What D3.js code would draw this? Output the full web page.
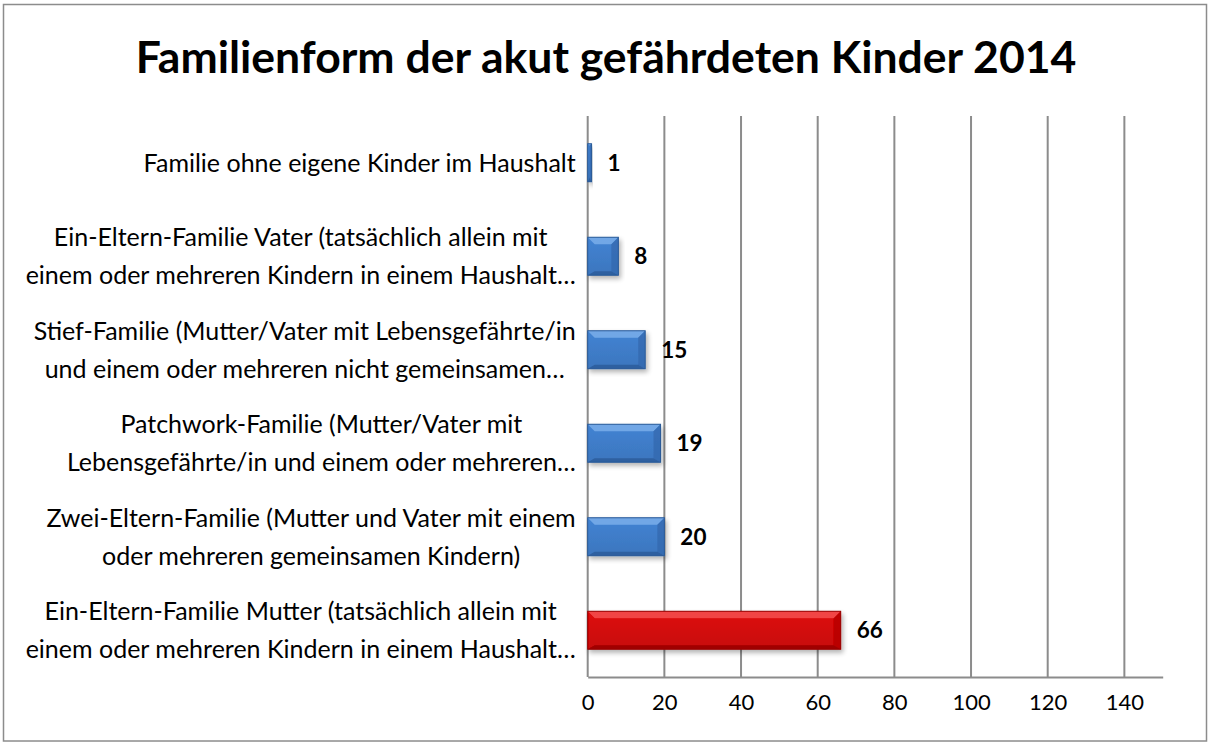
<!DOCTYPE html>
<html lang="de">
<head>
  <meta charset="UTF-8">
  <title>Familienform der akut gefährdeten Kinder 2014</title>
  <style>
    body {
      margin: 0;
      padding: 0;
      background: #fff;
    }
    svg text {
      font-family: 'Lato', 'Open Sans', sans-serif;
    }
  </style>
</head>
<body>

<script src="https://d3js.org/d3.v7.min.js"></script>

<script>
  // Categories, top to bottom, each split into the lines shown
  const categories = [
    ['Familie ohne eigene Kinder im Haushalt'],
    ['Ein-Eltern-Familie Vater (tatsächlich allein mit', 'einem oder mehreren Kindern in einem Haushalt…'],
    ['Stief-Familie (Mutter/Vater mit Lebensgefährte/in', 'und einem oder mehreren nicht gemeinsamen…'],
    ['Patchwork-Familie (Mutter/Vater mit', 'Lebensgefährte/in und einem oder mehreren…'],
    ['Zwei-Eltern-Familie (Mutter und Vater mit einem', 'oder mehreren gemeinsamen Kindern)'],
    ['Ein-Eltern-Familie Mutter (tatsächlich allein mit', 'einem oder mehreren Kindern in einem Haushalt…']
  ];
  const values = [1, 8, 15, 19, 20, 66];
  const highlighted = [false, false, false, false, false, true];
  const xTicks = [0, 20, 40, 60, 80, 100, 120, 140];
  const xMax = 150;

  const width = 1210, height = 745;
  const plot = { left: 587.7, right: 1162.7, top: 116, bottom: 677 };

  const svg = d3.select('body').append('svg')
    .attr('width', width)
    .attr('height', height);

  // outer frame
  svg.append('rect')
    .attr('x', 3.5).attr('y', 4.5)
    .attr('width', 1203).attr('height', 736.5)
    .attr('fill', '#fff')
    .attr('stroke', '#8c8c8c')
    .attr('stroke-width', 1.5);

  // title
  svg.append('text')
    .attr('x', 606).attr('y', 73)
    .attr('text-anchor', 'middle')
    .style('font-size', '44.5px')
    .style('font-weight', 'bold')
    .text('Familienform der akut gefährdeten Kinder 2014');

  const x = d3.scaleLinear().domain([0, xMax]).range([plot.left, plot.right]);
  const y = d3.scaleBand()
    .domain(d3.range(categories.length))
    .range([plot.top, plot.bottom])
    .paddingInner(0.594)
    .paddingOuter(0.297);

  // gridlines
  svg.append('g')
    .selectAll('line')
    .data(xTicks.filter(d => d > 0))
    .join('line')
    .attr('x1', d => x(d)).attr('x2', d => x(d))
    .attr('y1', plot.top).attr('y2', plot.bottom)
    .attr('stroke', '#8c8c8c')
    .attr('stroke-width', 2);

  // x axis (no tick marks, labels only)
  const xAxis = svg.append('g')
    .attr('transform', `translate(0,${plot.bottom})`)
    .call(d3.axisBottom(x).tickValues(xTicks).tickSize(0).tickPadding(17));
  xAxis.select('.domain').attr('stroke', '#8c8c8c').attr('stroke-width', 2);
  xAxis.selectAll('text')
    .style('font-size', '22px')
    .style('font-family', "'Lato', sans-serif")
    .attr('fill', '#000');

  // vertical category axis line
  svg.append('line')
    .attr('x1', x(0)).attr('x2', x(0))
    .attr('y1', plot.top).attr('y2', plot.bottom)
    .attr('stroke', '#8c8c8c')
    .attr('stroke-width', 2);

  // gradients and shadow
  const defs = svg.append('defs');
  const palettes = {
    blue: { light: '#7aaeea', main: '#3f7cc8', dark: '#2a5a98', side: '#3468ad' },
    red: { light: '#f45050', main: '#d20808', dark: '#960000', side: '#b40000' }
  };
  Object.entries(palettes).forEach(([k, p]) => {
    const g = defs.append('linearGradient')
      .attr('id', 'grad-' + k)
      .attr('x1', 0).attr('y1', 0).attr('x2', 0).attr('y2', 1);
    g.append('stop').attr('offset', '0%').attr('stop-color', d3.color(p.main).brighter(0.15));
    g.append('stop').attr('offset', '100%').attr('stop-color', d3.color(p.main).darker(0.15));
  });
  const shadow = defs.append('filter').attr('id', 'shadow')
    .attr('x', '-10%').attr('y', '-20%').attr('width', '130%').attr('height', '160%');
  shadow.append('feGaussianBlur').attr('in', 'SourceAlpha').attr('stdDeviation', 2.5);
  shadow.append('feOffset').attr('dx', 2).attr('dy', 3).attr('result', 'blur');
  shadow.append('feComponentTransfer').append('feFuncA').attr('type', 'linear').attr('slope', 0.3);
  const merge = shadow.append('feMerge');
  merge.append('feMergeNode');
  merge.append('feMergeNode').attr('in', 'SourceGraphic');

  // bars with bevel edges
  const bars = svg.append('g')
    .selectAll('g')
    .data(values.map((v, i) => ({ v, i, hl: highlighted[i] })))
    .join('g')
    .attr('filter', 'url(#shadow)');

  bars.each(function (d) {
    const g = d3.select(this);
    const p = d.hl ? palettes.red : palettes.blue;
    const x0 = x(0), x1 = x(d.v);
    const y0 = y(d.i), y1 = y(d.i) + y.bandwidth();
    const w = x1 - x0;
    const b = Math.min(7, w / 2);
    g.append('rect')
      .attr('x', x0).attr('y', y0)
      .attr('width', w).attr('height', y1 - y0)
      .attr('fill', `url(#grad-${d.hl ? 'red' : 'blue'})`);
    // top bevel
    g.append('polygon')
      .attr('points', [[x0, y0], [x1, y0], [x1 - b, y0 + b], [x0 + b, y0 + b]].join(' '))
      .attr('fill', p.light).attr('opacity', 0.85);
    // right bevel
    g.append('polygon')
      .attr('points', [[x1, y0], [x1, y1], [x1 - b, y1 - 4], [x1 - b, y0 + b]].join(' '))
      .attr('fill', p.side).attr('opacity', 0.75);
    // bottom bevel
    g.append('polygon')
      .attr('points', [[x0, y1], [x1, y1], [x1 - b, y1 - 4], [x0 + b, y1 - 4]].join(' '))
      .attr('fill', p.dark).attr('opacity', 0.8);
    g.append('rect')
      .attr('x', x0).attr('y', y0)
      .attr('width', w).attr('height', y1 - y0)
      .attr('fill', 'none')
      .attr('stroke', p.dark).attr('stroke-width', 1);
  });

  // value labels
  svg.append('g')
    .selectAll('text')
    .data(values)
    .join('text')
    .attr('x', (d) => x(d) + 16)
    .attr('y', (d, i) => y(i) + y.bandwidth() / 2)
    .attr('dy', '0.35em')
    .style('font-size', '22.5px')
    .style('font-weight', 'bold')
    .text(d => d);

  // category labels: block right-aligned next to axis, lines centered in block
  const lineH = 38;
  const labelRight = x(0) - 12;
  categories.forEach((lines, i) => {
    const g = svg.append('g');
    const cy = y(i) + y.bandwidth() / 2;
    const texts = lines.map((t, j) => g.append('text')
      .attr('y', cy + (j - (lines.length - 1) / 2) * lineH)
      .attr('dy', '0.35em')
      .attr('text-anchor', 'middle')
      .style('font-size', '25px')
      .text(t));
    const blockW = d3.max(texts, t => t.node().getComputedTextLength());
    texts.forEach(t => t.attr('x', labelRight - blockW / 2));
  });
</script>

</body>
</html>
